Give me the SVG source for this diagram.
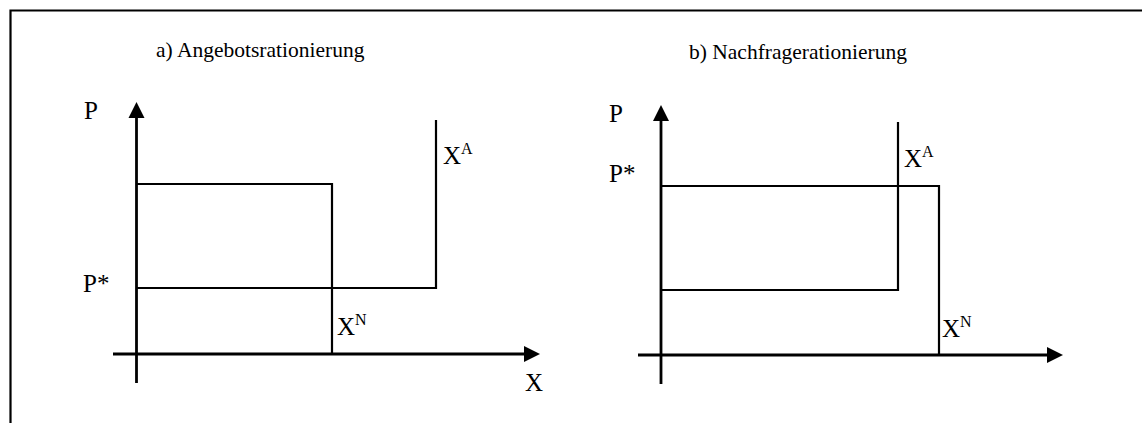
<svg xmlns="http://www.w3.org/2000/svg" width="1142" height="423" viewBox="0 0 1142 423">
<style>
text{font-family:"Liberation Serif","Times New Roman",serif;fill:#000}
.t{font-size:25px}
.ti{font-size:21.5px}
.sup{font-size:16px}
.ax{stroke:#000;stroke-width:2.8;fill:none}
.ln{stroke:#000;stroke-width:2.2;fill:none}
</style>
<rect width="1142" height="423" fill="#fff"/>
<g id="frame">
<path class="ln" d="M1142 10.5H10.5V423"/>
</g>
<g id="panel-a">
<text class="ti" x="156" y="57">a) Angebotsrationierung</text>
<text class="t" x="84" y="119">P</text>
<text class="t" x="83" y="292">P*</text>
<text class="t" x="443" y="164">X<tspan class="sup" dy="-10">A</tspan></text>
<text class="t" x="337" y="335">X<tspan class="sup" dy="-10">N</tspan></text>
<text class="t" x="525" y="391">X</text>
</g>
<g id="panel-b">
<text class="ti" x="689" y="59">b) Nachfragerationierung</text>
<text class="t" x="609" y="122">P</text>
<text class="t" x="609" y="182">P*</text>
<text class="t" x="904" y="167">X<tspan class="sup" dy="-10">A</tspan></text>
<text class="t" x="942" y="337">X<tspan class="sup" dy="-10">N</tspan></text>
</g>
<g id="connectors">
<path class="ax" d="M136.5 117V383"/>
<path d="M136.5 102L128.5 118H144.5Z" fill="#000"/>
<path class="ax" d="M113 354H524"/>
<path d="M540 354L524 346V362Z" fill="#000"/>
<path class="ln" d="M136.5 184H332V354"/>
<path class="ln" d="M136.5 288H436V120"/>
<path class="ax" d="M661 120V384"/>
<path d="M661 105L653 121H669Z" fill="#000"/>
<path class="ax" d="M638 355H1048"/>
<path d="M1063 355L1047 347V363Z" fill="#000"/>
<path class="ln" d="M661 186H939V355"/>
<path class="ln" d="M661 290H898V122"/>
</g>
</svg>
